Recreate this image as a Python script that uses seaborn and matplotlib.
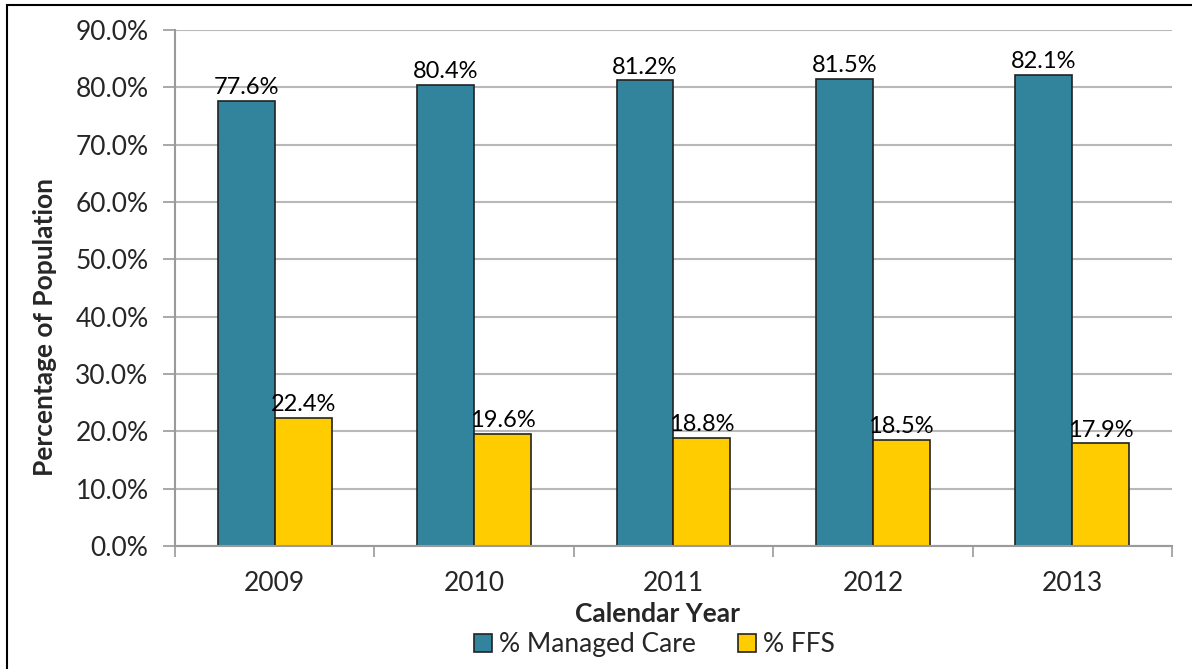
import matplotlib
matplotlib.use("Agg")
import matplotlib.pyplot as plt
import matplotlib.patches as mpatches
from matplotlib.ticker import FuncFormatter, FixedLocator
import seaborn as sns
import pandas as pd

# data
years = ["2009", "2010", "2011", "2012", "2013"]
managed_care = [77.6, 80.4, 81.2, 81.5, 82.1]
ffs = [22.4, 19.6, 18.8, 18.5, 17.9]
series = ["% Managed Care", "% FFS"]
colors = ["#31849B", "#FFCC00"]

df = pd.DataFrame({
    "year": years * 2,
    "value": managed_care + ffs,
    "series": [series[0]] * len(years) + [series[1]] * len(years),
})

sns.set_theme(style="white")
plt.rcParams["font.family"] = ["Lato", "DejaVu Sans"]

fig = plt.figure(figsize=(11.92, 6.69), dpi=100)
ax = fig.add_axes([0.1468, 0.1839, 0.8364, 0.7713])

sns.barplot(data=df, x="year", y="value", hue="series", palette=colors,
            width=0.57, gap=0, edgecolor="#222222", linewidth=1.2,
            saturation=1, legend=False, ax=ax)

# value labels above each bar
for cont in ax.containers:
    ax.bar_label(cont, fmt="%.1f%%", padding=2, fontsize=17, color="black")

ax.set_ylim(0, 90)
ax.set_xlim(-0.5, 4.5)
ax.set_yticks(range(0, 91, 10))
ax.yaxis.set_major_formatter(FuncFormatter(lambda v, p: f"{v:.1f}%"))
ax.yaxis.grid(True, color="#b8b8b8", linewidth=1.5)
ax.set_axisbelow(True)

for s in ["top", "right"]:
    ax.spines[s].set_visible(False)
for s in ["left", "bottom"]:
    ax.spines[s].set_color("#9a9a9a")
    ax.spines[s].set_linewidth(1.5)

ax.tick_params(axis="y", which="major", direction="out", length=9, width=1.2,
               color="#9a9a9a", labelsize=19, pad=10, left=True)
ax.tick_params(axis="x", which="major", length=0, labelsize=19, pad=18)
ax.xaxis.set_minor_locator(FixedLocator([-0.5, 0.5, 1.5, 2.5, 3.5, 4.5]))
ax.tick_params(axis="x", which="minor", direction="out", length=8, width=1.2,
               color="#9a9a9a", bottom=True)

ax.set_xlabel("Calendar Year", fontsize=19, fontweight="bold")
ax.xaxis.set_label_coords(0.4835, -0.108)
ax.set_ylabel("Percentage of Population", fontsize=19, fontweight="bold")
ax.yaxis.set_label_coords(-0.118, 0.425)

handles = [mpatches.Patch(facecolor=c, edgecolor="#222222", linewidth=1.2, label=l)
           for c, l in zip(colors, series)]
fig.legend(handles=handles, loc="center", bbox_to_anchor=(0.549, 0.036), ncol=2,
           frameon=False, fontsize=19, handlelength=0.7, handleheight=0.7,
           handletextpad=0.25, columnspacing=1.6, borderpad=0)

# outer frame of the chart
fig.patches.append(mpatches.Rectangle((7 / 1192, -0.05), 1.1, 1 - 5 / 669 + 0.05,
                                      transform=fig.transFigure, fill=False,
                                      edgecolor="black", linewidth=1.5))

fig.savefig("out.png", dpi=100)
